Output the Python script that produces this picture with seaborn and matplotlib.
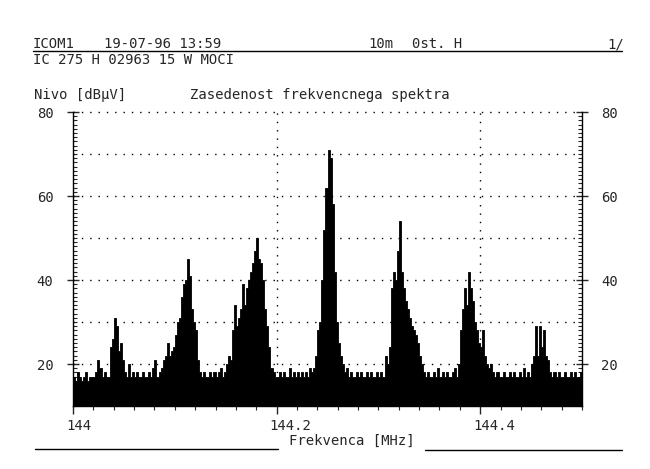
import numpy as np
import matplotlib
matplotlib.use('Agg')
import matplotlib.pyplot as plt
import matplotlib.transforms as mtransforms
from matplotlib.lines import Line2D
from matplotlib.ticker import MultipleLocator, FixedLocator
import seaborn as sns

# spectrum, one value per 0.002 MHz bin (144.000 .. 144.500)
FREQ_START = 144.0
FREQ_STEP = 0.002
LEVEL_ROWS = [
    [17, 16, 18, 17, 16, 17, 18, 16, 17, 17],  # 144.00
    [17, 18, 21, 19, 17, 18, 17, 17, 24, 26],  # 144.02
    [31, 29, 23, 25, 21, 18, 17, 20, 17, 18],  # 144.04
    [17, 18, 17, 17, 18, 17, 17, 18, 17, 19],  # 144.06
    [21, 17, 18, 19, 21, 22, 25, 22, 23, 24],  # 144.08
    [27, 30, 31, 36, 39, 40, 45, 41, 33, 30],  # 144.10
    [28, 21, 18, 17, 18, 17, 17, 18, 17, 18],  # 144.12
    [17, 18, 19, 17, 18, 20, 22, 21, 28, 34],  # 144.14
    [29, 31, 33, 39, 34, 38, 40, 42, 44, 47],  # 144.16
    [50, 45, 44, 40, 33, 29, 24, 19, 18, 17],  # 144.18
    [17, 18, 17, 18, 17, 17, 19, 17, 18, 17],  # 144.20
    [18, 17, 18, 17, 18, 17, 19, 18, 19, 22],  # 144.22
    [28, 30, 40, 52, 62, 71, 69, 58, 42, 30],  # 144.24
    [25, 22, 20, 18, 19, 17, 18, 17, 17, 18],  # 144.26
    [17, 18, 17, 17, 18, 17, 18, 17, 17, 18],  # 144.28
    [17, 18, 17, 22, 20, 24, 38, 42, 40, 47],  # 144.30
    [54, 42, 38, 35, 33, 31, 29, 28, 27, 25],  # 144.32
    [22, 20, 18, 17, 18, 17, 17, 18, 17, 19],  # 144.34
    [17, 18, 17, 18, 17, 17, 18, 19, 17, 20],  # 144.36
    [28, 33, 38, 34, 42, 38, 35, 30, 28, 25],  # 144.38
    [24, 28, 22, 20, 19, 20, 18, 17, 18, 17],  # 144.40
    [17, 18, 17, 17, 18, 17, 18, 17, 17, 18],  # 144.42
    [17, 19, 17, 18, 17, 20, 22, 29, 22, 29],  # 144.44
    [24, 28, 22, 21, 18, 17, 18, 17, 18, 17],  # 144.46
    [17, 18, 17, 17, 18, 17, 18, 17, 17, 18],  # 144.48
]

Y_TICKS = [20, 40, 60, 80]
Y_GRID = [20, 30, 40, 50, 60, 70, 80]
X_TICKS = [144.0, 144.2, 144.4]
X_TICK_LABELS = ['144', '144.2', '144.4']

HEADER_1 = [('ICOM1', 33), ('19-07-96 13:59', 104), ('10m', 368), ('0st. H', 412), ('1/', 607)]
HEADER_2 = 'IC 275 H 02963 15 W MOCI'
Y_TITLE = 'Nivo [dB\u00b5V]'
TITLE = 'Zasedenost frekvencnega spektra'
X_TITLE = 'Frekvenca [MHz]'

W, H = 650, 469
MONO = ['DejaVu Sans Mono']


def px(x, y):
    return x / W, 1 - y / H


def draw():
    sns.set_style('white')
    plt.rcParams['font.family'] = MONO
    plt.rcParams['font.size'] = 10

    levels = np.array(LEVEL_ROWS, dtype=float).ravel()
    freqs = FREQ_START + FREQ_STEP * (np.arange(len(levels)) + 0.5)

    fig = plt.figure(figsize=(6.5, 4.69), dpi=100)
    l, b = px(73, 406)
    r, t = px(582, 112)
    ax = fig.add_axes([l, b, r - l, t - b])

    sns.histplot(x=freqs, weights=levels, binwidth=FREQ_STEP, binrange=(144.0, 144.5),
                 element='step', fill=True, color='black', alpha=1.0, linewidth=0.6, ax=ax)

    ax.set_xlim(144.0, 144.5)
    ax.set_ylim(10, 80)
    ax.set_xlabel('')
    ax.set_ylabel('')

    # dotted grid like the printer output
    for v in Y_GRID:
        ax.axhline(v, color='black', lw=1.0, ls=(0, (1, 5)), zorder=0, clip_on=False)
    for f in X_TICKS[1:]:
        ax.axvline(f, color='black', lw=1.0, ls=(0, (1, 5)), zorder=0)

    for side in ['left', 'right', 'bottom']:
        ax.spines[side].set_visible(True)
        ax.spines[side].set_color('black')
        ax.spines[side].set_linewidth(1.0)
    ax.spines['top'].set_visible(False)

    ax.yaxis.set_major_locator(FixedLocator(Y_TICKS))
    ax.yaxis.set_minor_locator(MultipleLocator(1))
    ax.xaxis.set_major_locator(FixedLocator(X_TICKS))
    ax.xaxis.set_minor_locator(MultipleLocator(0.02))
    ax.set_xticklabels(X_TICK_LABELS)

    ax.tick_params(axis='y', which='major', left=True, right=True, labelleft=True, labelright=True,
                   direction='inout', length=8, width=1, pad=10, labelsize=10)
    ax.tick_params(axis='y', which='minor', left=True, right=True, direction='in', length=3, width=0.8)
    ax.tick_params(axis='x', which='major', bottom=True, direction='out', length=6, width=1,
                   pad=3, labelsize=10)
    ax.tick_params(axis='x', which='minor', bottom=True, direction='out', length=3, width=0.8)

    shift = mtransforms.ScaledTranslation(-5 / 72, 0, fig.dpi_scale_trans)
    for lab in ax.get_xticklabels():
        lab.set_horizontalalignment('left')
        lab.set_transform(lab.get_transform() + shift)

    # header of the printout
    for txt, x in HEADER_1:
        fig.text(*px(x, 44), txt, ha='left', va='center', fontsize=10)
    fig.add_artist(Line2D([33 / W, 622 / W], [1 - 51 / H] * 2, color='black', lw=1.0))
    fig.text(*px(33, 60), HEADER_2, ha='left', va='center', fontsize=10)

    fig.text(*px(34, 95), Y_TITLE, ha='left', va='center', fontsize=10)
    fig.text(*px(190, 95), TITLE, ha='left', va='center', fontsize=10)

    fig.text(*px(352, 441), X_TITLE, ha='center', va='center', fontsize=10)
    fig.add_artist(Line2D([35 / W, 278 / W], [1 - 449 / H] * 2, color='black', lw=1.0))
    fig.add_artist(Line2D([425 / W, 622 / W], [1 - 450 / H] * 2, color='black', lw=1.0))

    fig.savefig('out.png', dpi=100, facecolor='white')
    plt.close(fig)


if __name__ == "__main__":
    draw()
